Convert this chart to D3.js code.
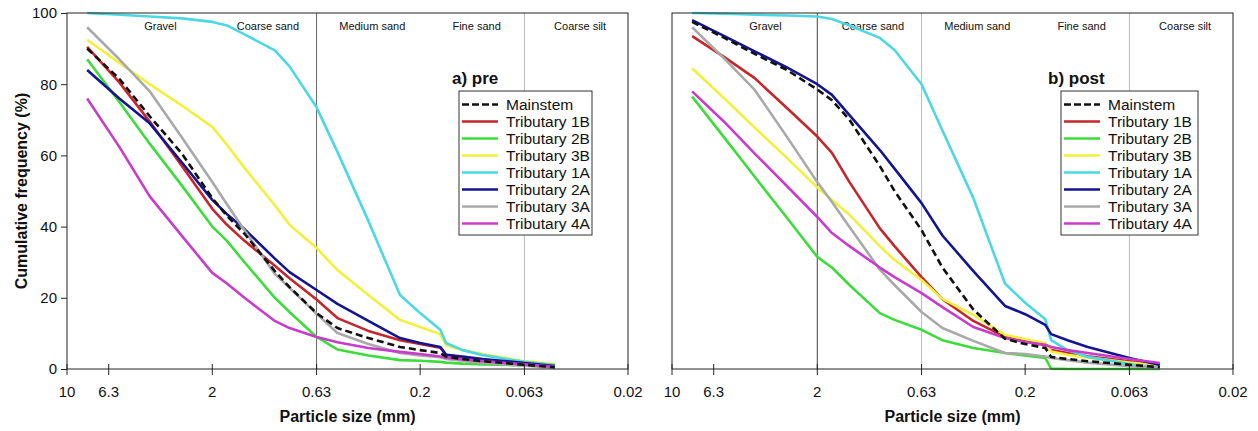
<!DOCTYPE html>
<html lang="en">
  <head>
    <title>Particle size distribution</title>
    <script src="https://d3js.org/d3.v7.min.js"></script>
    <style>
      body {
        margin: 0;
        background: #fff;
      }

      svg text {
        font-family: Arial, "Liberation Sans", sans-serif;
        fill: #111;
      }

      .series {
        fill: none;
        stroke-width: 2.6;
        stroke-linejoin: round;
      }
    </style>
  </head>
  <body>
    <script>
      // sieve sizes (mm) shared by every curve
      const sizes = [8, 5.6, 4, 2.8, 2, 1.7, 1.4, 1, 0.85, 0.63, 0.5, 0.355, 0.25, 0.2, 0.16, 0.15, 0.125, 0.1, 0.063, 0.045];

      const seriesNames = ['Mainstem', 'Tributary 1B', 'Tributary 2B', 'Tributary 3B', 'Tributary 1A', 'Tributary 2A', 'Tributary 3A', 'Tributary 4A'];
      const seriesColors = ['#111111', '#c4262c', '#3ddc3a', '#f2f03c', '#4cd8e2', '#14148f', '#a9a9a9', '#c83ccc'];

      const xTicks = [10, 6.3, 2, 0.63, 0.2, 0.063, 0.02];
      const yTicks = [0, 20, 40, 60, 80, 100];

      const classNames = ['Gravel', 'Coarse sand', 'Medium sand', 'Fine sand', 'Coarse silt'];
      const classCentres = [3.55, 1.08, 0.34, 0.107, 0.034];

      // a) pre
      const preMainstem = [90, 81.5, 71, 60.5, 48, 43, 38, 27.5, 23, 15.7, 11.5, 8.7, 6.2, 5.3, 4.5, 3.5, 2.8, 2.2, 1.2, 0.5];
      const pre1B = [90.5, 80.5, 69.5, 57, 45, 40.5, 36, 29, 25.5, 19.5, 14.3, 10.7, 8.1, 7, 6, 4, 3.3, 2.6, 1.4, 0.5];
      const pre2B = [87, 75, 63.3, 51.5, 40, 36, 30, 20, 16, 9, 5.5, 3.8, 2.5, 2.3, 2, 1.8, 1.5, 1.3, 1, 0.8];
      const pre3B = [92.5, 86, 80, 74, 68, 63, 56.5, 46, 40.5, 34, 27.8, 20.8, 13.8, 11.8, 9.8, 6.7, 5.3, 4.2, 2.2, 1.4];
      const pre1A = [100, 99.5, 99, 98.5, 97.5, 96.5, 94, 89.5, 85, 73.5, 61, 41.6, 20.8, 15.7, 11, 7.3, 5.3, 3.9, 2, 1.1];
      const pre2A = [84, 76, 69, 58, 47.5, 43.5, 39.3, 31, 27.2, 22.2, 18.3, 13.5, 8.7, 7.3, 6.2, 4, 3.5, 2.8, 1.7, 0.8];
      const pre3A = [96, 87, 78, 65, 52.5, 46.3, 39, 26.7, 22.8, 15.5, 10.1, 7, 4.5, 3.8, 3.3, 2.8, 2.3, 1.7, 0.9, 0.3];
      const pre4A = [76, 62.4, 48.5, 37.4, 27, 24, 20, 13.5, 11.5, 9, 7.5, 5.9, 4.8, 4.2, 3.5, 3.2, 2.7, 2.2, 1.3, 0.6];

      // b) post
      const postMainstem = [97.5, 93, 88.5, 84, 78.5, 75.5, 70, 57, 50, 39, 28.5, 16.7, 8.5, 7, 5.9, 3.4, 2.8, 2.2, 1.2, 0.5];
      const post1B = [93.5, 87.6, 81.7, 73.3, 65.3, 60.7, 52.5, 39.5, 34.5, 25.8, 19.6, 13.5, 9, 7.8, 6.7, 5.3, 4.5, 3.6, 2.2, 1.1];
      const post2B = [76.5, 65, 54, 42.5, 31.5, 28.5, 23.6, 15.7, 13.8, 11, 8.1, 5.9, 4.5, 3.8, 3.1, 0.1, 0, 0, 0, 0];
      const post3B = [84.5, 76, 67.8, 59.3, 51, 47.5, 43.3, 34.5, 30.6, 25, 19.7, 15.2, 9.6, 8.4, 7.3, 4.9, 4, 3.2, 1.8, 1];
      const post1A = [100, 99.8, 99.5, 99.3, 99, 98.3, 96.5, 93, 89.6, 80, 67, 48, 24, 18.6, 14, 8.1, 5.3, 3.4, 1.4, 0.3];
      const post2A = [98, 93.5, 89.2, 84.7, 80, 77, 71.3, 61.5, 56.3, 46.6, 37.5, 27.5, 17.7, 15.4, 12.4, 9.8, 8.1, 6.2, 3.1, 1.1];
      const post3A = [96, 87.2, 78.4, 65.2, 52.5, 46.9, 39.9, 27.9, 23.6, 16, 11.5, 7.9, 4.5, 4.2, 3.5, 3.1, 2.5, 1.8, 0.8, 0.3];
      const post4A = [78, 69.4, 60.5, 51.4, 42.7, 38.2, 34.5, 28.5, 25.8, 21.3, 17.4, 11.8, 8.7, 7.6, 6.8, 6.2, 5.3, 4.5, 2.8, 1.7];

      const W = 1258;
      const H = 431;
      const plotTop = 13;
      const plotH = 356;
      const plotW = 561;

      const panels = [
        {
          title: 'a) pre', x0: 67, titleX: 385, legendX: 392, legendW: 133, yLabels: true,
          values: [preMainstem, pre1B, pre2B, pre3B, pre1A, pre2A, pre3A, pre4A],
          dividers: [{ size: 0.63, color: '#666' }, { size: 0.063, color: '#bbb' }]
        },
        {
          title: 'b) post', x0: 672, titleX: 376, legendX: 389, legendW: 137, yLabels: false,
          values: [postMainstem, post1B, post2B, post3B, post1A, post2A, post3A, post4A],
          dividers: [{ size: 2, color: '#444' }, { size: 0.63, color: '#bbb' }, { size: 0.063, color: '#bbb' }]
        }
      ];

      const svg = d3.select('body')
                    .append('svg')
                    .attr('width', W)
                    .attr('height', H);

      const xScale = d3.scaleLog().domain([10, 0.02]).range([0, plotW]);
      const yScale = d3.scaleLinear().domain([0, 100]).range([plotH, 0]);

      const line = d3.line()
                     .x((d, i) => xScale(sizes[i]))
                     .y(d => yScale(d));

      panels.forEach(p => {
        const g = svg.append('g').attr('transform', `translate(${p.x0}, ${plotTop})`);

        // size class dividers
        g.selectAll('.divider')
         .data(p.dividers)
         .enter()
         .append('line')
          .attr('x1', d => xScale(d.size))
          .attr('x2', d => xScale(d.size))
          .attr('y1', 0)
          .attr('y2', plotH)
          .attr('stroke', d => d.color)
          .attr('stroke-width', 1);

        g.selectAll('.cls')
         .data(classNames)
         .enter()
         .append('text')
          .attr('x', (d, i) => xScale(classCentres[i]))
          .attr('y', 17)
          .attr('text-anchor', 'middle')
          .style('font-size', '11px')
          .text(d => d);

        // curves, mainstem on top
        const order = [1, 2, 3, 4, 5, 6, 7, 0];
        order.forEach(k => {
          g.append('path')
           .datum(p.values[k])
           .attr('class', 'series')
           .attr('d', line)
           .attr('stroke', seriesColors[k])
           .attr('stroke-dasharray', k === 0 ? '7,4' : null);
        });

        // frame
        g.append('rect')
         .attr('width', plotW)
         .attr('height', plotH)
         .attr('fill', 'none')
         .attr('stroke', '#222')
         .attr('stroke-width', 1);

        // x axis
        const xAxis = g.append('g').attr('transform', `translate(0, ${plotH})`);
        xAxis.selectAll('line')
             .data(xTicks)
             .enter()
             .append('line')
              .attr('x1', d => xScale(d))
              .attr('x2', d => xScale(d))
              .attr('y1', -5)
              .attr('y2', 6)
              .attr('stroke', '#222');
        xAxis.selectAll('text')
             .data(xTicks)
             .enter()
             .append('text')
              .attr('x', d => xScale(d))
              .attr('y', 28)
              .attr('text-anchor', 'middle')
              .style('font-size', '15px')
              .text(d => d);

        g.append('text')
         .attr('x', plotW / 2)
         .attr('y', plotH + 53)
         .attr('text-anchor', 'middle')
         .style('font-size', '16px')
         .style('font-weight', 'bold')
         .text('Particle size (mm)');

        // y axis
        if (p.yLabels) {
          const yAxis = d3.axisLeft(yScale).tickValues(yTicks).tickSize(6).tickPadding(4);
          g.append('g')
           .call(yAxis)
           .call(a => a.select('.domain').remove())
           .call(a => a.selectAll('line').attr('stroke', '#222'))
           .call(a => a.selectAll('text')
                       .style('font-size', '15px')
                       .style('font-family', 'Arial, "Liberation Sans", sans-serif')
                       .attr('fill', '#111'));

          g.append('text')
           .attr('transform', `translate(${-40}, ${plotH / 2}) rotate(-90)`)
           .attr('text-anchor', 'middle')
           .style('font-size', '16px')
           .style('font-weight', 'bold')
           .text('Cumulative frequency (%)');
        }

        // panel title
        g.append('text')
         .attr('x', p.titleX)
         .attr('y', 71)
         .style('font-size', '17px')
         .style('font-weight', 'bold')
         .text(p.title);

        // legend
        const lg = g.append('g').attr('transform', `translate(${p.legendX}, 78)`);
        lg.append('rect')
          .attr('width', p.legendW)
          .attr('height', 144)
          .attr('fill', '#fff')
          .attr('stroke', '#333')
          .attr('stroke-width', 1);
        const rows = lg.selectAll('.row')
                       .data(seriesNames)
                       .enter()
                       .append('g')
                        .attr('transform', (d, i) => `translate(0, ${13.5 + i * 17})`);
        rows.append('line')
            .attr('x1', 3)
            .attr('x2', 39)
            .attr('y1', 0)
            .attr('y2', 0)
            .attr('stroke', (d, i) => seriesColors[i])
            .attr('stroke-width', 2.6)
            .attr('stroke-dasharray', (d, i) => i === 0 ? '7,3' : null);
        rows.append('text')
            .attr('x', 47)
            .attr('y', 5.5)
            .style('font-size', '15.5px')
            .text(d => d);
      });
    </script>
  </body>
</html>
